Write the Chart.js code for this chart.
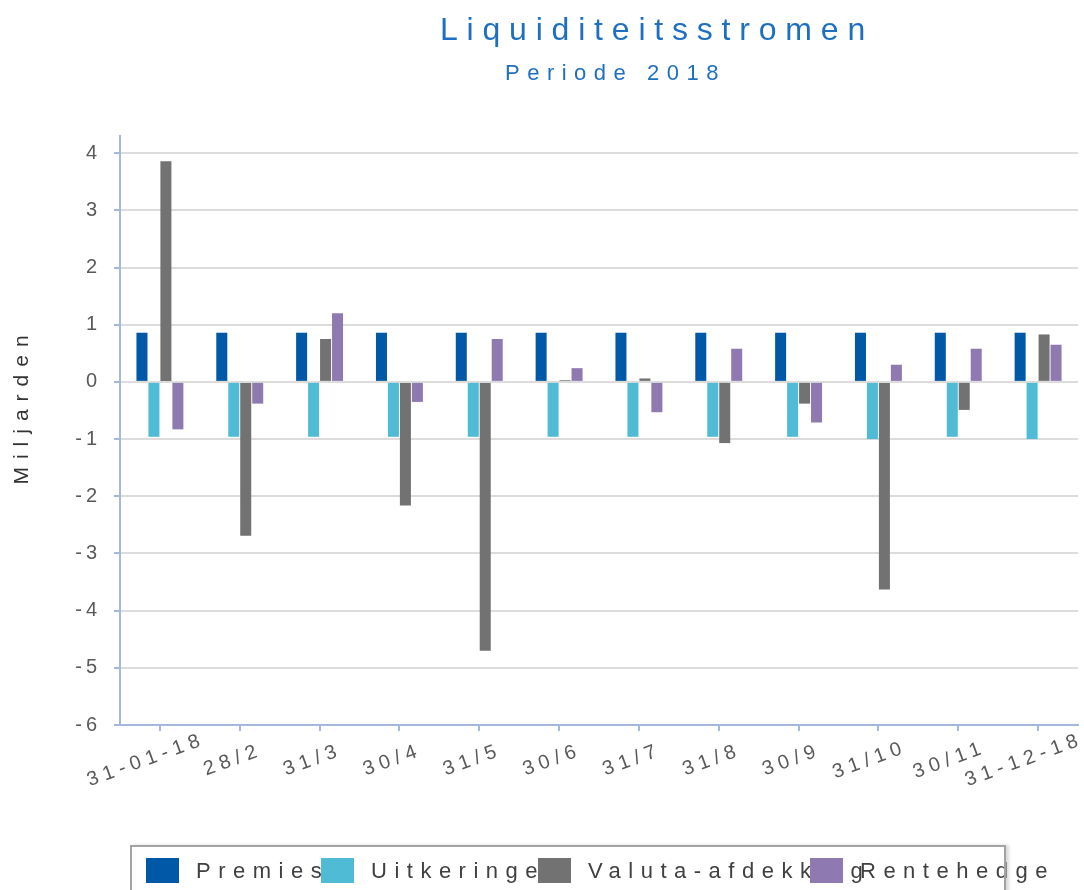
<!DOCTYPE html>
<html>
<head>
<meta charset="utf-8">
<script src="https://cdn.jsdelivr.net/npm/chart.js@4/dist/chart.umd.min.js"></script>
<style>
  body { margin: 0; background: #fff; }
  #wrap { position: relative; width: 1084px; height: 890px; overflow: hidden; font-family: "Liberation Sans", Arial, sans-serif; }
  #chart { position: absolute; left: 0; top: 0; }
  .title { position: absolute; color: #1f6fc0; white-space: nowrap; line-height: 1; }
  #t1 { left: 440px; top: 13px; font-size: 32px; letter-spacing: 8.8px; }
  #t2 { left: 505px; top: 62px; font-size: 22px; letter-spacing: 7.5px; }
  #legend { position: absolute; left: 0; top: 0; width: 1084px; height: 890px; pointer-events: none; }
  .lbox { position: absolute; top: 858px; width: 33px; height: 25px; }
  .ltxt { position: absolute; top: 858px; height: 25px; line-height: 25px; font-size: 22px; letter-spacing: 7.5px; color: #404040; white-space: nowrap; }
  #lframe { position: absolute; left: 130px; top: 845px; width: 872px; height: 80px; border: 2px solid #a3a3a3; box-shadow: 3px 0 3px rgba(0,0,0,0.15); }
</style>
</head>
<body>
<div id="wrap">
  <canvas id="chart" width="1084" height="890"></canvas>
  <div class="title" id="t1">Liquiditeitsstromen</div>
  <div class="title" id="t2">Periode 2018</div>
  <div id="legend"></div>
</div>
<script>
const labels = ["31-01-18", "28/2", "31/3", "30/4", "31/5", "30/6", "31/7", "31/8", "30/9", "31/10", "30/11", "31-12-18"];
const premies = [0.86, 0.86, 0.86, 0.86, 0.86, 0.86, 0.86, 0.86, 0.86, 0.86, 0.86, 0.86];
const uitkeringen = [-0.96, -0.96, -0.96, -0.96, -0.96, -0.96, -0.96, -0.96, -0.96, -1.0, -0.96, -1.0];
const valuta = [3.86, -2.69, 0.75, -2.16, -4.7, 0.03, 0.06, -1.07, -0.38, -3.63, -0.49, 0.83];
const rente = [-0.83, -0.38, 1.2, -0.35, 0.75, 0.24, -0.53, 0.58, -0.71, 0.3, 0.58, 0.65];
const seriesNames = ["Premies", "Uitkeringen", "Valuta-afdekking", "Rentehedge"];
const colors = ["#0058a6", "#4fbbd5", "#727272", "#8f79b1"];

const axisBlue = "#a3b8dc";
const gridGray = "#dcdcdc";
const tickGray = "#595959";

// x labels are drawn centred + rotated like the original, y title too
const textPlugin = {
  id: "textPlugin",
  beforeDraw(chart) {
    chart.ctx.letterSpacing = "4px";
  },
  afterDraw(chart) {
    const ctx = chart.ctx;
    const xs = chart.scales.x;
    ctx.save();
    ctx.font = "20px 'Liberation Sans', Arial, sans-serif";
    ctx.fillStyle = tickGray;
    ctx.letterSpacing = "5.5px";
    ctx.textAlign = "center";
    ctx.textBaseline = "middle";
    labels.forEach((lab, i) => {
      const w = ctx.measureText(lab).width;
      ctx.save();
      ctx.translate(xs.getPixelForTick(i) - 3 - 0.11 * w, 761);
      ctx.rotate(-20 * Math.PI / 180);
      ctx.fillText(lab, 3, 0);
      ctx.restore();
    });
    ctx.font = "21px 'Liberation Sans', Arial, sans-serif";
    ctx.fillStyle = "#333333";
    ctx.letterSpacing = "8px";
    ctx.translate(22, 410);
    ctx.rotate(-Math.PI / 2);
    ctx.fillText("Miljarden", 4, 0);
    ctx.restore();
  }
};

new Chart(document.getElementById("chart"), {
  type: "bar",
  data: {
    labels: labels,
    datasets: [premies, uitkeringen, valuta, rente].map((d, i) => ({
      label: seriesNames[i],
      data: d,
      backgroundColor: colors[i],
      borderWidth: 0,
      categoryPercentage: 0.6,
      barPercentage: 0.92
    }))
  },
  options: {
    responsive: false,
    animation: false,
    devicePixelRatio: 1,
    layout: { padding: { top: 136, right: 6, left: 0, bottom: 0 } },
    plugins: {
      legend: { display: false },
      title: { display: false },
      tooltip: { enabled: false }
    },
    scales: {
      x: {
        grid: {
          offset: false,
          drawOnChartArea: false,
          drawTicks: true,
          tickLength: 6,
          tickColor: axisBlue,
          lineWidth: 2
        },
        border: { color: axisBlue, width: 2 },
        ticks: { display: false },
        afterFit: (scale) => { scale.height = 165; }
      },
      y: {
        min: -6,
        max: 4.3,
        bounds: "data",
        grid: {
          color: (c) => (c.tick && c.tick.value === -6 ? "transparent" : gridGray),
          tickColor: axisBlue,
          lineWidth: 2,
          tickLength: 6
        },
        border: { color: axisBlue, width: 2 },
        ticks: {
          stepSize: 1,
          includeBounds: false,
          padding: 13,
          color: tickGray,
          font: { family: "'Liberation Sans', Arial, sans-serif", size: 20 }
        },
        afterFit: (scale) => { scale.width = 120; }
      }
    }
  },
  plugins: [textPlugin]
});

// legend built as html so the items can overlap like the source picture
const legendEl = document.getElementById("legend");
const boxLefts = [146, 321, 538, 810];
seriesNames.forEach((name, i) => {
  const box = document.createElement("div");
  box.className = "lbox";
  box.style.left = boxLefts[i] + "px";
  box.style.background = colors[i];
  legendEl.appendChild(box);
  const txt = document.createElement("div");
  txt.className = "ltxt";
  txt.style.left = (boxLefts[i] + 50) + "px";
  txt.textContent = name;
  legendEl.appendChild(txt);
});
const frame = document.createElement("div");
frame.id = "lframe";
legendEl.appendChild(frame);
</script>
</body>
</html>
